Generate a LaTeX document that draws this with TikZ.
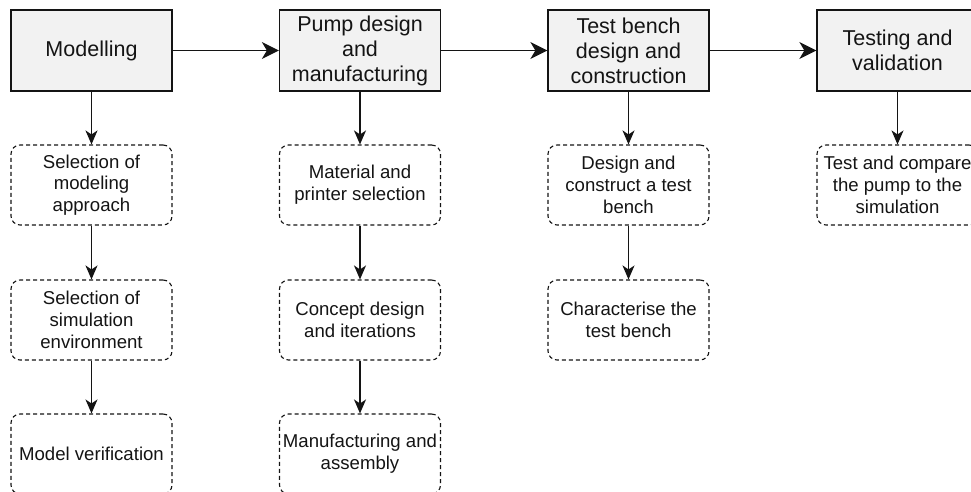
\documentclass[tikz,border=0pt]{standalone}
\usepackage{fontspec}
\setmainfont{Liberation Sans}
\usetikzlibrary{arrows.meta}
\definecolor{boxfill}{RGB}{242,242,242}
\definecolor{ink}{RGB}{20,20,20}
\tikzset{
  mainbox/.style={draw=ink, fill=boxfill, line width=1.3pt, minimum width=161pt, minimum height=81pt,
    inner sep=0pt, align=center, font=\fontsize{21.5pt}{25pt}\selectfont, text=ink},
  subbox/.style={draw=ink, dash pattern=on 4pt off 3pt, rounded corners=9pt, line width=1.1pt,
    minimum width=161pt, minimum height=80pt, inner sep=0pt, align=center,
    font=\fontsize{18.6pt}{21.7pt}\selectfont, text=ink},
  harr/.style={draw=ink, line width=1.3pt, -{Stealth[length=17pt, width=17pt, inset=5pt]}},
  varr/.style={draw=ink, line width=1.3pt, -{Stealth[length=14pt, width=12pt, inset=4pt]}}
}
\begin{document}
\begin{tikzpicture}[x=1pt, y=-1pt]
\useasboundingbox (0,0) rectangle (971,492);
\clip (0,0) rectangle (971,492);
% main row
\node[mainbox] (m1) at (91.5,50.5) {Modelling};
\node[mainbox] (m2) at (360,50.5) {Pump design\\and\\manufacturing};
\node[mainbox] (m3) at (628.5,50.5) {Test bench\\design and\\construction};
\node[mainbox] (m4) at (897.5,50.5) {Testing and\\validation};
% column 1
\node[subbox] (a1) at (91.5,185) {Selection of\\modeling\\approach};
\node[subbox] (a2) at (91.5,320) {Selection of\\simulation\\environment};
\node[subbox] (a3) at (91.5,454) {Model verification};
% column 2
\node[subbox] (b1) at (360,185) {Material and\\printer selection};
\node[subbox] (b2) at (360,320) {Concept design\\and iterations};
\node[subbox] (b3) at (360,454) {Manufacturing and\\assembly};
% column 3
\node[subbox] (c1) at (628.5,185) {Design and\\construct a test\\bench};
\node[subbox] (c2) at (628.5,320) {Characterise the\\test bench};
% column 4
\node[subbox] (d1) at (897.5,185) {Test and compare\\the pump to the\\simulation};
% arrows
\draw[harr] (m1) -- (m2);
\draw[harr] (m2) -- (m3);
\draw[harr] (m3) -- (m4);
\draw[varr] (m1) -- (a1);
\draw[varr] (a1) -- (a2);
\draw[varr] (a2) -- (a3);
\draw[varr] (m2) -- (b1);
\draw[varr] (b1) -- (b2);
\draw[varr] (b2) -- (b3);
\draw[varr] (m3) -- (c1);
\draw[varr] (c1) -- (c2);
\draw[varr] (m4) -- (d1);
\end{tikzpicture}
\end{document}
